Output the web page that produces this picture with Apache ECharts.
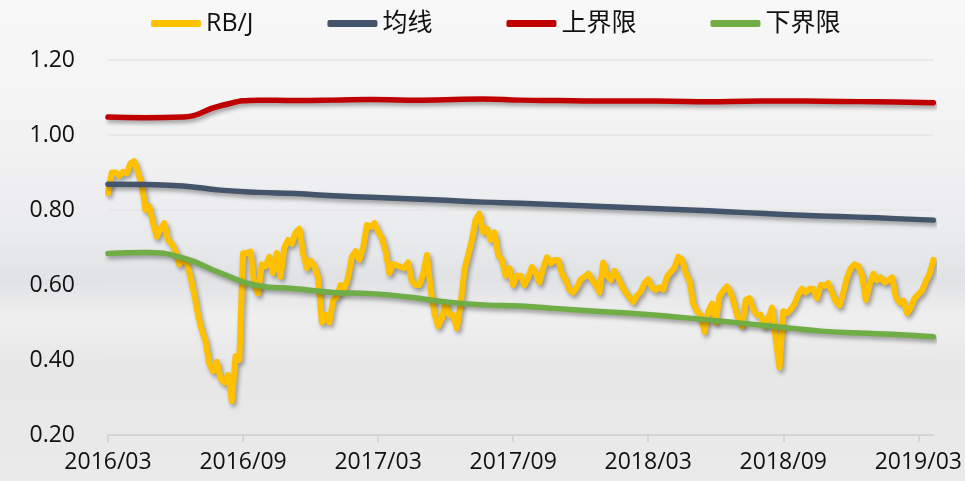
<!DOCTYPE html>
<html>
<head>
<meta charset="utf-8">
<script src="https://cdn.jsdelivr.net/npm/echarts@6/dist/echarts.min.js"></script>
<style>
  html, body { margin: 0; padding: 0; }
  #chart { width: 965px; height: 481px; }
</style>
</head>
<body>
<div id="chart"></div>
<script>
// x positions are months counted from 2016/03
const tickLabels = ['2016/03', '2016/09', '2017/03', '2017/09', '2018/03', '2018/09', '2019/03'];
const rbjStep = 1 / 6;    // one RB/J reading every ~5 days
const bandStep = 10 / 6;  // bands read every 10 RB/J steps

const rbj = [
  .845, .90, .90, .89, .902, .898, .925, .93, .90, .87,
  .80, .81, .765, .729, .75, .765, .72, .71, .69, .655,
  .67, .66, .62, .575, .52, .48, .45, .39, .37, .395,
  .35, .34, .36, .29, .41, .40, .685, .685, .689, .60,
  .578, .655, .65, .675, .632, .685, .622, .70, .72, .71,
  .74, .75, .685, .645, .665, .65, .62, .50, .52, .50,
  .56, .568, .60, .59, .62, .675, .69, .667, .70, .76,
  .755, .765, .742, .725, .69, .632, .656, .652, .648, .645,
  .66, .61, .60, .60, .63, .68, .59, .525, .49, .51,
  .555, .52, .52, .485, .55, .64, .68, .72, .775, .79,
  .74, .75, .72, .74, .68, .667, .625, .645, .60, .625,
  .625, .60, .62, .648, .632, .607, .645, .674, .658, .667,
  .667, .63, .613, .587, .58, .595, .615, .622, .63, .615,
  .60, .58, .66, .625, .613, .638, .618, .597, .58, .567,
  .555, .572, .582, .605, .615, .593, .587, .594, .588, .622,
  .635, .646, .675, .667, .632, .61, .55, .53, .52, .475,
  .53, .55, .50, .57, .585, .596, .58, .545, .51, .49,
  .56, .565, .535, .52, .52, .49, .51, .54, .455, .38,
  .53, .525, .535, .55, .575, .59, .58, .59, .59, .565,
  .60, .598, .605, .58, .555, .545, .58, .62, .645, .655,
  .65, .625, .56, .60, .63, .613, .62, .607, .613, .62,
  .568, .553, .558, .525, .54, .565, .575, .585, .61, .63,
  .667
];
const avgLine = [.869, .868, .864, .853, .847, .844, .838, .834, .830, .826, .821, .818,
  .814, .810, .806, .802, .798, .793, .788, .784, .781, .777, .773];
const upperBound = [1.048, 1.046, 1.048, 1.078, 1.093, 1.092, 1.093, 1.095, 1.093, 1.094, 1.096, 1.093,
  1.092, 1.091, 1.091, 1.090, 1.089, 1.090, 1.091, 1.090, 1.089, 1.088, 1.086];
const lowerBound = [.684, .687, .672, .632, .598, .590, .580, .577, .568, .555, .547, .544,
  .537, .530, .524, .516, .507, .497, .487, .477, .472, .468, .462];

const toPoints = (arr, step) => arr.map((v, i) => [i * step, v]);
const tickMonths = tickLabels.map((t, i) => i * 6);

const shadow = {
  shadowColor: 'rgba(0,0,0,0.35)',
  shadowBlur: 4,
  shadowOffsetX: 2,
  shadowOffsetY: 3,
  cap: 'round',
  join: 'round'
};
const mkLine = (name, data, color, smooth, width) => ({
  name,
  type: 'line',
  data,
  smooth,
  symbol: 'none',
  itemStyle: {color},
  lineStyle: Object.assign({color, width}, shadow)
});

const chart = echarts.init(document.getElementById('chart'));
chart.setOption({
  animation: false,
  backgroundColor: new echarts.graphic.LinearGradient(0, 0, 0, 1, [
    {offset: 0, color: '#f8f8f8'},
    {offset: 0.3, color: '#f2f2f3'},
    {offset: 0.5, color: '#e9eaec'},
    {offset: 0.58, color: '#e1e2e4'},
    {offset: 0.66, color: '#efefef'},
    {offset: 0.76, color: '#e7e7e7'},
    {offset: 1, color: '#eaeaea'}
  ]),
  textStyle: {fontFamily: "'Open Sans', 'Noto Sans CJK SC', sans-serif"},
  legend: {
    left: 146,
    top: 6,
    icon: 'roundRect',
    itemWidth: 50,
    itemHeight: 7,
    itemGap: 74,
    textStyle: {fontSize: 25, color: '#111'},
    data: ['RB/J', '均线', '上界限', '下界限']
  },
  grid: {left: 108, right: 30, top: 60, bottom: 46},
  xAxis: {
    type: 'value',
    min: 0,
    max: (rbj.length - 1) * rbjStep,
    axisLine: {show: true, lineStyle: {color: '#cfcfcf', width: 1.5}},
    axisTick: {show: true, length: 7, customValues: tickMonths, lineStyle: {color: '#cfcfcf', width: 1.5}},
    axisLabel: {
      customValues: tickMonths,
      margin: 16,
      fontSize: 23,
      color: '#111',
      formatter: v => tickLabels[Math.round(v / 6)] || ''
    },
    splitLine: {show: false}
  },
  yAxis: {
    type: 'value',
    min: 0.2,
    max: 1.2,
    interval: 0.2,
    axisLine: {show: false},
    axisTick: {show: false},
    axisLabel: {
      margin: 33,
      fontSize: 23,
      color: '#111',
      formatter: v => v.toFixed(2)
    },
    splitLine: {lineStyle: {color: '#e6e6e6', width: 1.5}}
  },
  series: [
    mkLine('RB/J', toPoints(rbj, rbjStep), '#ffc000', false, 6),
    mkLine('均线', toPoints(avgLine, bandStep), '#44546a', true, 5.5),
    mkLine('上界限', toPoints(upperBound, bandStep), '#c00000', true, 5.5),
    mkLine('下界限', toPoints(lowerBound, bandStep), '#70ad47', true, 5.5)
  ]
});
</script>
</body>
</html>
